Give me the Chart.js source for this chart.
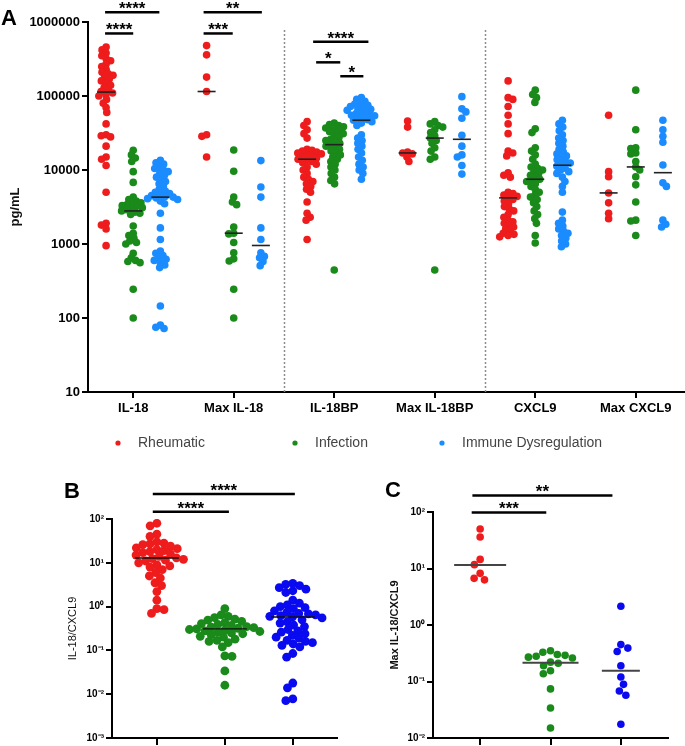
<!DOCTYPE html>
<html>
<head>
<meta charset="utf-8">
<title>IL-18, IL-18BP and CXCL9 by diagnosis group</title>
<script src="https://cdn.jsdelivr.net/npm/chart.js@4"></script>
<style>
  body { margin: 0; background: #fff; }
  #wrap { position: relative; width: 685px; height: 746px; overflow: hidden; font-family: 'Liberation Sans', Arial, sans-serif; }
  canvas { position: absolute; }
  .panel { position: absolute; font-weight: bold; font-size: 22px; line-height: 22px; color: #000; }
</style>
</head>
<body>
<div id="wrap">
  <canvas id="chartA" width="685" height="470" style="left:0;top:0"></canvas>
  <canvas id="chartB" width="340" height="276" style="left:0;top:470px"></canvas>
  <canvas id="chartC" width="345" height="276" style="left:340px;top:470px"></canvas>
  <div class="panel" style="left:1px;top:7px">A</div>
  <div class="panel" style="left:64px;top:480px">B</div>
  <div class="panel" style="left:385px;top:479px">C</div>
</div>
<script>
var FONT = "'Liberation Sans', Arial, sans-serif";
var RED = '#ee1c1c', GREEN = '#1a8a1a', SKY = '#1a8cff', BLUE = '#0a0af0';

// ---- panel A (pg/mL) ----
var markers = ['IL-18', 'Max IL-18', 'IL-18BP', 'Max IL-18BP', 'CXCL9', 'Max CXCL9'];
var groupNames = ['Rheumatic', 'Infection', 'Immune Dysregulation'];

var rheumIL18 = [460000, 420000, 380000, 350000, 320000, 300000, 270000, 250000, 230000, 210000, 200000, 190000, 180000, 170000, 160000, 150000, 140000, 130000, 120000, 115000, 110000, 105000, 100000, 90000, 80000, 70000, 60000, 42000, 30000, 29000, 28000, 21000, 15000, 14000, 11500, 5000, 1900, 1800, 1600, 950];
var infIL18 = [18500, 16000, 14500, 13000, 9500, 6800, 4300, 4000, 3800, 3600, 3500, 3400, 3300, 3200, 3100, 3000, 2900, 2800, 2700, 2600, 2500, 1750, 1400, 1300, 1200, 1100, 1050, 1000, 750, 650, 600, 580, 560, 245, 100];
var immIL18 = [13500, 12500, 12000, 11000, 10500, 10000, 9500, 9000, 8500, 8000, 7500, 7000, 6500, 6000, 5500, 5200, 5000, 4800, 4600, 4500, 4400, 4300, 4200, 4100, 4000, 3800, 3500, 2600, 1650, 1150, 800, 750, 700, 650, 620, 600, 560, 520, 480, 145, 80, 75, 72];

var rheumMaxIL18 = [480000, 360000, 180000, 115000, 30000, 28500, 15000];
var infMaxIL18 = [18600, 9600, 4300, 3700, 3400, 1700, 1400, 1370, 1050, 760, 630, 590, 245, 100];
var immMaxIL18 = [13400, 5900, 4300, 1650, 1150, 760, 680, 650, 580, 510];

var rheumIL18BP = [45000, 40000, 35000, 31000, 27000, 19000, 18500, 18000, 17500, 17000, 16500, 16000, 15500, 15000, 14500, 14000, 13500, 13000, 12500, 12000, 11000, 10000, 9000, 8000, 7500, 7000, 6500, 6000, 5500, 5000, 3700, 2600, 2300, 2100, 1150];
var infIL18BP = [43000, 41000, 40000, 38500, 37000, 35000, 34000, 33000, 31000, 29000, 27500, 26000, 25000, 24000, 23000, 22000, 21000, 20000, 19000, 18000, 17000, 16000, 15000, 14000, 13000, 12000, 11000, 10000, 9000, 8000, 7200, 6500, 445];
var immIL18BP = [95000, 90000, 85000, 80000, 78000, 75000, 72000, 70000, 68000, 66000, 64000, 62000, 60000, 58000, 56000, 55000, 54000, 52000, 50000, 48000, 47000, 45000, 43000, 40000, 30000, 27000, 25000, 23000, 21000, 19000, 17000, 15000, 13500, 12000, 11000, 10000, 9000, 7500];

var rheumMaxIL18BP = [46000, 38000, 17500, 17000, 16500, 15000, 13000];
var infMaxIL18BP = [45000, 42000, 40000, 38000, 35000, 32000, 29000, 27000, 25000, 23000, 20000, 18000, 15000, 14000, 445];
var immMaxIL18BP = [98000, 67000, 61000, 50000, 29500, 21000, 16000, 15000, 11500, 8800];

var rheumCXCL9 = [160000, 95000, 90000, 72000, 55000, 42000, 31000, 18000, 17000, 15500, 9200, 8500, 8000, 5000, 4800, 4600, 4400, 4200, 4000, 3800, 3500, 3200, 3000, 2800, 2500, 2300, 2100, 2000, 1900, 1800, 1700, 1600, 1500, 1400, 1350, 1300, 1250];
var infCXCL9 = [120000, 105000, 95000, 82000, 36000, 32000, 20000, 18000, 16000, 14000, 12000, 11000, 10500, 10000, 9500, 9000, 8500, 8000, 7500, 7200, 7000, 6500, 6000, 5500, 5000, 4600, 4300, 4000, 3600, 3200, 2800, 2500, 2200, 1900, 1300, 1030];
var immCXCL9 = [47000, 42000, 38000, 34000, 30000, 27000, 25000, 23000, 21000, 19000, 17500, 16500, 15500, 14500, 13800, 13000, 12400, 11800, 11200, 10600, 10000, 9500, 9000, 8000, 7000, 6000, 5000, 2700, 2100, 1900, 1750, 1600, 1500, 1400, 1300, 1200, 1100, 1000, 920];

var rheumMaxCXCL9 = [55000, 9500, 8100, 4900, 3600, 2600, 2200];
var infMaxCXCL9 = [120000, 35000, 20000, 19500, 17000, 16500, 13000, 11000, 10000, 8100, 6300, 3700, 2100, 2050, 1300];
var immMaxCXCL9 = [47000, 35000, 28500, 23700, 11700, 6700, 6000, 2100, 1850, 1700];

var rheumMedians = [113000, 115000, 14000, 17000, 4200, 4900];
var infMedians = [2800, 1400, 22000, 27000, 7500, 11000];
var immMedians = [4300, 955, 47000, 26000, 11600, 9200];

var sigA = [
  { from: -0.28, to: 0.26, at: 1350000, label: '****' },
  { from: -0.28, to: 0.0, at: 700000, label: '****' },
  { from: 0.70, to: 1.28, at: 1350000, label: '**' },
  { from: 0.70, to: 0.99, at: 700000, label: '***' },
  { from: 1.79, to: 2.34, at: 540000, label: '****' },
  { from: 1.82, to: 2.06, at: 285000, label: '*' },
  { from: 2.06, to: 2.29, at: 185000, label: '*' }
];

// ---- panel B (IL-18/CXCL9) ----
var ratioRheum = [80, 70, 45, 40, 30, 28, 27, 26, 24, 22, 21, 20, 19, 18, 17, 16, 15, 14, 13, 12.5, 12, 11.5, 11, 10, 9, 8.5, 8, 7, 6, 5, 4.5, 3.5, 3, 2.2, 1.4, 0.9, 0.85, 0.7];
var ratioInf = [0.9, 0.65, 0.6, 0.56, 0.52, 0.49, 0.46, 0.43, 0.41, 0.39, 0.37, 0.35, 0.34, 0.33, 0.32, 0.31, 0.3, 0.29, 0.28, 0.27, 0.26, 0.25, 0.24, 0.23, 0.21, 0.2, 0.18, 0.17, 0.16, 0.15, 0.12, 0.075, 0.073, 0.034, 0.016];
var ratioImm = [3.4, 3.2, 3.0, 2.7, 2.5, 2.3, 2.1, 1.4, 1.2, 1.1, 1.0, 0.95, 0.9, 0.8, 0.75, 0.7, 0.68, 0.65, 0.62, 0.6, 0.58, 0.55, 0.5, 0.45, 0.42, 0.38, 0.35, 0.3, 0.28, 0.26, 0.24, 0.22, 0.2, 0.19, 0.17, 0.16, 0.15, 0.14, 0.13, 0.12, 0.085, 0.07, 0.018, 0.014, 0.0078, 0.0071];
var ratioMedians = [12.9, 0.31, 0.58];
var sigB = [
  { from: -0.06, to: 2.03, at: 370, label: '****' },
  { from: -0.06, to: 1.06, at: 146, label: '****' }
];

// ---- panel C (Max IL-18/CXCL9) ----
var maxRatioRheum = [50, 36, 14.5, 11.7, 8.2, 6.7, 6.3];
var maxRatioInf = [0.35, 0.33, 0.3, 0.29, 0.28, 0.27, 0.26, 0.22, 0.21, 0.19, 0.155, 0.137, 0.074, 0.034, 0.015];
var maxRatioImm = [2.15, 0.45, 0.39, 0.34, 0.19, 0.12, 0.089, 0.068, 0.057, 0.0175];
var maxRatioMedians = [11.5, 0.215, 0.155];
var sigC = [
  { from: -0.11, to: 1.88, at: 196, label: '**' },
  { from: -0.12, to: 0.94, at: 98, label: '***' }
];

// simple beeswarm: place each dot as close to the column centre as it can go
function beeswarm(ys, d) {
  var order = ys.map(function (y, i) { return i; }).sort(function (a, b) { return ys[a] - ys[b]; });
  var placed = [], xs = [], flip = false;
  order.forEach(function (i) {
    var y = ys[i];
    var near = placed.filter(function (p) { return Math.abs(p.y - y) < d; });
    var cands = [0];
    near.forEach(function (p) {
      var w = Math.sqrt(d * d - (p.y - y) * (p.y - y));
      cands.push(p.x - w, p.x + w);
    });
    cands.sort(function (a, b) { return Math.abs(a) - Math.abs(b) || (flip ? a - b : b - a); });
    var x = cands.find(function (c) {
      return near.every(function (p) { return (p.x - c) * (p.x - c) + (p.y - y) * (p.y - y) >= d * d - 0.01; });
    });
    flip = !flip;
    xs[i] = x;
    placed.push({ x: x, y: y });
  });
  return xs;
}

var swarmPlugin = {
  id: 'swarm',
  afterDatasetsUpdate: function (chart) {
    chart.data.datasets.forEach(function (ds, di) {
      if (!ds.swarmGap) return;
      var meta = chart.getDatasetMeta(di);
      var cols = {};
      meta.data.forEach(function (el, i) {
        var k = ds.data[i].x;
        (cols[k] = cols[k] || []).push(el);
      });
      Object.keys(cols).forEach(function (k) {
        var els = cols[k];
        var offs = beeswarm(els.map(function (e) { return e.y; }), ds.swarmGap);
        els.forEach(function (e, j) { e.x += offs[j]; });
      });
    });
  }
};

var decorPlugin = {
  id: 'decor',
  beforeDatasetsDraw: function (chart, args, o) {
    if (!o.dividers) return;
    var ctx = chart.ctx, xs = chart.scales.x, ys = chart.scales.y;
    ctx.save();
    ctx.strokeStyle = '#8c8c8c';
    ctx.lineWidth = 1.5;
    ctx.setLineDash([2, 2]);
    o.dividers.forEach(function (d) {
      var x = Math.round(xs.getPixelForValue(d)) + 0.5;
      ctx.beginPath();
      ctx.moveTo(x, ys.getPixelForValue(o.dividerTop));
      ctx.lineTo(x, chart.chartArea.bottom);
      ctx.stroke();
    });
    ctx.restore();
  },
  afterDraw: function (chart, args, o) {
    var ctx = chart.ctx, xs = chart.scales.x, ys = chart.scales.y;
    ctx.save();
    (o.bars || []).forEach(function (b) {
      var x1 = xs.getPixelForValue(b.from), x2 = xs.getPixelForValue(b.to), y = ys.getPixelForValue(b.at);
      ctx.strokeStyle = '#000';
      ctx.lineWidth = 2.5;
      ctx.beginPath();
      ctx.moveTo(x1, y);
      ctx.lineTo(x2, y);
      ctx.stroke();
      ctx.fillStyle = '#000';
      ctx.font = 'bold 17px ' + FONT;
      ctx.textAlign = 'center';
      ctx.textBaseline = 'alphabetic';
      ctx.fillText(b.label, (x1 + x2) / 2, y + 2);
    });
    if (o.legend) {
      ctx.font = '14px ' + FONT;
      ctx.textAlign = 'left';
      ctx.textBaseline = 'middle';
      o.legend.x.forEach(function (x, i) {
        var ds = chart.data.datasets[i];
        ctx.fillStyle = ds.pointBackgroundColor;
        ctx.beginPath();
        ctx.arc(x, o.legend.y, 2.6, 0, Math.PI * 2);
        ctx.fill();
        ctx.fillStyle = '#444';
        ctx.fillText(ds.label, x + 20, o.legend.y);
      });
    }
    ctx.restore();
  }
};

function columnPoints(lists, offset) {
  var out = [];
  lists.forEach(function (vals, i) {
    vals.forEach(function (v) { out.push({ x: i + offset, y: v }); });
  });
  return out;
}
function medianPoints(meds, offset) {
  return meds.map(function (m, i) { return { x: i + offset, y: m }; });
}

var SUP = { '-': '\u207B', '0': '\u2070', '1': '\u00B9', '2': '\u00B2', '3': '\u00B3' };
function powLabel(v) {
  var e = String(Math.round(Math.log10(v)));
  return '10' + e.split('').map(function (c) { return SUP[c]; }).join('');
}

function dots(label, data, color, r, gap) {
  return { label: label, data: data, swarmGap: gap, order: 1, pointRadius: r,
    pointBackgroundColor: color, pointBorderWidth: 0, pointHoverRadius: r };
}
function medianSet(data, radii, color, width) {
  return { label: 'Median', data: data, order: 0, pointStyle: 'line', pointRadius: radii,
    pointBorderColor: color, pointBorderWidth: width, pointBackgroundColor: color };
}

function yAxis(min, max, width, fmt, tickSize, title, titleFont, titleOffset) {
  var lo = Math.round(Math.log10(min)), hi = Math.round(Math.log10(max));
  return {
    type: 'logarithmic', min: min, max: max,
    afterFit: function (s) { s.width = width; },
    afterBuildTicks: function (s) {
      var t = [];
      for (var e = lo; e <= hi; e++) t.push({ value: Math.pow(10, e) });
      s.ticks = t;
    },
    border: { display: true, color: '#000', width: 2 },
    grid: { display: true, drawOnChartArea: false, drawTicks: true, tickLength: 6, color: '#000', lineWidth: 2 },
    ticks: { autoSkip: false, padding: 2, color: '#000', font: { family: FONT, size: tickSize, weight: 'bold' }, callback: fmt },
    title: { display: true, text: title, color: '#111', font: titleFont,
      padding: { top: titleOffset - titleFont.size * 0.6, bottom: 0 } }
  };
}
function xAxis(min, max, n, height, labels, tickLen) {
  return {
    type: 'linear', min: min, max: max,
    afterFit: function (s) { s.height = height; },
    afterBuildTicks: function (s) {
      var t = [];
      for (var i = 0; i < n; i++) t.push({ value: i });
      s.ticks = t;
    },
    border: { display: true, color: '#000', width: 2 },
    grid: { display: true, drawOnChartArea: false, drawTicks: true, tickLength: tickLen, color: '#000', lineWidth: 2 },
    ticks: { autoSkip: false, maxRotation: 0, padding: 3, color: '#000', font: { family: FONT, size: 13, weight: 'bold' },
      callback: function (v) { return labels ? labels[v] : ''; } }
  };
}
function baseOptions(padding, scales, decor) {
  return {
    responsive: false, animation: false, events: [],
    layout: { padding: padding, autoPadding: false },
    plugins: { legend: { display: false }, tooltip: { enabled: false }, decor: decor },
    scales: scales
  };
}

// Panel A
new Chart(document.getElementById('chartA'), {
  type: 'scatter',
  data: {
    datasets: [
      dots(groupNames[0], columnPoints([rheumIL18, rheumMaxIL18, rheumIL18BP, rheumMaxIL18BP, rheumCXCL9, rheumMaxCXCL9], -0.27), RED, 3.8, 5.0),
      dots(groupNames[1], columnPoints([infIL18, infMaxIL18, infIL18BP, infMaxIL18BP, infCXCL9, infMaxCXCL9], 0), GREEN, 3.8, 5.0),
      dots(groupNames[2], columnPoints([immIL18, immMaxIL18, immIL18BP, immMaxIL18BP, immCXCL9, immMaxCXCL9], 0.27), SKY, 3.8, 5.0),
      medianSet(medianPoints(rheumMedians, -0.27).concat(medianPoints(infMedians, 0), medianPoints(immMedians, 0.27)), 9, '#222', 1.6)
    ]
  },
  options: baseOptions({ top: 22, bottom: 50, left: 0, right: 0 }, {
    x: xAxis(-0.45, 5.49, 6, 28, markers, 6),
    y: yAxis(10, 1000000, 88, function (v) { return String(v); }, 13, 'pg/mL',
      { family: FONT, size: 13, weight: 'bold' }, 15)
  }, { bars: sigA, dividers: [1.5, 3.5], dividerTop: 780000, legend: { y: 443, x: [118, 295, 442] } }),
  plugins: [swarmPlugin, decorPlugin]
});

// Panel B
new Chart(document.getElementById('chartB'), {
  type: 'scatter',
  data: {
    datasets: [
      dots(groupNames[0], columnPoints([ratioRheum], 0), RED, 4.4, 7.2),
      dots(groupNames[1], columnPoints([ratioInf], 1), GREEN, 4.4, 7.2),
      dots(groupNames[2], columnPoints([ratioImm], 2), BLUE, 4.4, 7.2),
      medianSet(medianPoints(ratioMedians, 0), 22, '#111', 1.4)
    ]
  },
  options: baseOptions({ top: 49, bottom: 0, left: 0, right: 3 }, {
    x: xAxis(-0.66, 2.65, 3, 7, null, 7),
    y: yAxis(0.001, 100, 112, powLabel, 10, 'IL-18/CXCL9', { family: FONT, size: 11, weight: 'normal' }, 73)
  }, { bars: sigB }),
  plugins: [swarmPlugin, decorPlugin]
});

// Panel C
new Chart(document.getElementById('chartC'), {
  type: 'scatter',
  data: {
    datasets: [
      dots(groupNames[0], columnPoints([maxRatioRheum], 0), RED, 3.8, 7.8),
      dots(groupNames[1], columnPoints([maxRatioInf], 1), GREEN, 3.8, 7.8),
      dots(groupNames[2], columnPoints([maxRatioImm], 2), BLUE, 3.8, 7.8),
      medianSet(medianPoints(maxRatioMedians, 0), [26, 28, 19], '#444', 2)
    ]
  },
  options: baseOptions({ top: 42, bottom: 0, left: 0, right: 17 }, {
    x: xAxis(-0.67, 2.67, 3, 7, null, 7),
    y: yAxis(0.01, 100, 93, powLabel, 10, 'Max IL-18/CXCL9', { family: FONT, size: 11, weight: 'bold' }, 55)
  }, { bars: sigC }),
  plugins: [swarmPlugin, decorPlugin]
});
</script>
</body>
</html>
